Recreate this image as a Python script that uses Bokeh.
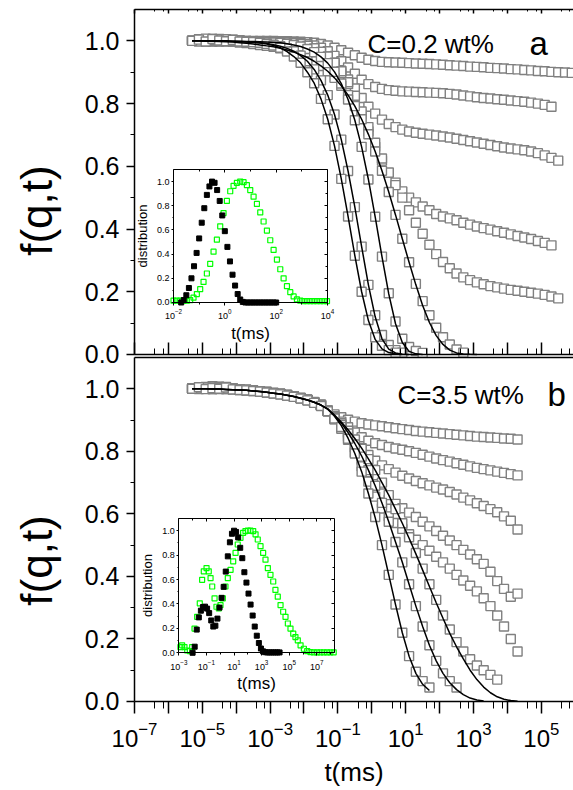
import math
from bokeh.plotting import figure
from bokeh.models import (Range1d, LogScale, LinearScale, LogAxis, LinearAxis, FixedTicker,
                          PrintfTickFormatter, LogTickFormatter, CustomJSTickFormatter, Label)
from bokeh.embed import file_html
from bokeh.resources import INLINE

FONT = "Liberation Sans"

# shared time grid, log10(t / ms)
LT = [-5.3, -5.1, -4.9, -4.7, -4.5, -4.3, -4.1, -3.9, -3.7, -3.5, -3.3, -3.1, -2.9, -2.7, -2.5,
      -2.3, -2.1, -1.9, -1.7, -1.5, -1.3, -1.1, -0.9, -0.7, -0.5, -0.3, -0.1, 0.1, 0.3, 0.5,
      0.7, 0.9, 1.1, 1.3, 1.5, 1.7, 1.9, 2.1, 2.3, 2.5, 2.7, 2.9, 3.1, 3.3, 3.5, 3.7, 3.9,
      4.1, 4.3, 4.5, 4.7, 4.9, 5.1, 5.3, 5.5, 5.7, 5.9]

# ---------------- panel a (C = 0.2 wt%) ----------------
A_F1 = [1.0, 1.004, 0.998, 1.006, 1.001, 0.999, 1.003, 0.998, 0.997, 0.996, 0.994,
        0.99, 0.985, 0.978, 0.966, 0.95, 0.93, 0.90, 0.865, 0.815, 0.75, 0.665, 0.56, 0.44,
        0.315, 0.2, 0.11, 0.055, 0.028, 0.014, 0.006]
A_F2 = [1.0, 0.998, 1.007, 1.002, 1.0, 1.005, 0.999, 1.001, 0.998, 0.997, 0.996,
        0.992, 0.988, 0.983, 0.976, 0.967, 0.953, 0.935, 0.909, 0.874, 0.827, 0.765, 0.685,
        0.585, 0.47, 0.344, 0.222, 0.125, 0.062, 0.03, 0.014, 0.006]
A_F3 = [1.0, 1.003, 1.0, 0.999, 1.006, 1.002, 1.0, 1.001, 0.999, 0.998, 0.997,
        0.996, 0.995, 0.994, 0.991, 0.987, 0.982, 0.974, 0.964, 0.949, 0.929, 0.901, 0.864,
        0.813, 0.747, 0.662, 0.558, 0.439, 0.312, 0.195, 0.105, 0.05, 0.024, 0.011, 0.005]
A_F4 = [1.0, 1.002, 0.999, 1.003, 1.004, 0.998, 0.997, 0.995, 0.993, 0.99, 0.987,
        0.984, 0.981, 0.976, 0.971, 0.964, 0.956, 0.947, 0.935, 0.92, 0.903, 0.882, 0.857,
        0.827, 0.792, 0.75, 0.702, 0.647, 0.586, 0.518, 0.445, 0.369, 0.294, 0.225, 0.17,
        0.125, 0.085, 0.055, 0.032, 0.016, 0.006]
A_P1 = [1.0, 1.003, 0.999, 1.005, 1.002, 1.0, 1.004, 1.001, 1.0, 0.999, 1.0,
        1.0, 1.0, 0.999, 0.999, 0.998, 0.997, 0.996, 0.994, 0.99, 0.985, 0.978, 0.97, 0.962,
        0.954, 0.946, 0.94, 0.936, 0.933, 0.932, 0.931, 0.93, 0.929, 0.928, 0.927, 0.926,
        0.925, 0.924, 0.922, 0.921, 0.92, 0.918, 0.917, 0.916, 0.914, 0.913, 0.912, 0.91,
        0.909, 0.907, 0.906, 0.904, 0.903, 0.901, 0.9, 0.899, 0.898]
A_P2 = [1.0, 1.001, 1.004, 0.999, 1.002, 1.0, 1.003, 1.0, 0.999, 1.0, 0.999,
        0.999, 0.999, 0.998, 0.998, 0.996, 0.993, 0.99, 0.985, 0.978, 0.967, 0.952, 0.935,
        0.915, 0.895, 0.876, 0.862, 0.853, 0.847, 0.843, 0.841, 0.839, 0.838, 0.837, 0.836,
        0.835, 0.834, 0.833, 0.831, 0.829, 0.826, 0.823, 0.82, 0.818, 0.816, 0.814, 0.812,
        0.81, 0.808, 0.806, 0.803, 0.8, 0.796, 0.79]
A_P3 = [1.0, 1.002, 1.0, 1.006, 0.999, 1.003, 1.0, 0.998, 1.0, 0.999, 0.999,
        0.999, 0.998, 0.998, 0.997, 0.995, 0.99, 0.984, 0.976, 0.965, 0.95, 0.93, 0.905,
        0.877, 0.848, 0.818, 0.79, 0.768, 0.749, 0.735, 0.725, 0.717, 0.711, 0.707, 0.704,
        0.701, 0.698, 0.695, 0.692, 0.688, 0.684, 0.68, 0.676, 0.672, 0.668, 0.664, 0.66,
        0.657, 0.654, 0.651, 0.647, 0.642, 0.635, 0.627, 0.618]
A_P4 = [1.0, 1.0, 1.003, 1.001, 0.998, 1.004, 1.0, 0.999, 0.998, 0.998, 0.997,
        0.998, 0.997, 0.996, 0.995, 0.993, 0.989, 0.984, 0.975, 0.963, 0.947, 0.925, 0.897,
        0.862, 0.815, 0.765, 0.712, 0.662, 0.618, 0.58, 0.548, 0.52, 0.5, 0.485, 0.472, 0.46,
        0.448, 0.44, 0.434, 0.428, 0.42, 0.414, 0.408, 0.403, 0.398, 0.393, 0.388, 0.383,
        0.378, 0.373, 0.368, 0.362, 0.356, 0.348]
A_P5 = [1.0, 1.005, 1.0, 0.999, 1.003, 1.0, 1.002, 0.999, 0.998, 0.998, 0.997,
        0.997, 0.997, 0.996, 0.995, 0.993, 0.99, 0.984, 0.976, 0.965, 0.95, 0.93, 0.903,
        0.868, 0.825, 0.775, 0.725, 0.675, 0.625, 0.58, 0.54, 0.5, 0.46, 0.42, 0.385, 0.35,
        0.32, 0.295, 0.275, 0.258, 0.246, 0.237, 0.23, 0.224, 0.218, 0.214, 0.21, 0.206,
        0.203, 0.2, 0.197, 0.194, 0.19, 0.185, 0.179]

A_FIT1 = [1.0, 1.0, 1.0, 1.0, 0.999, 0.999, 0.998, 0.997, 0.996, 0.995, 0.993,
          0.99, 0.985, 0.978, 0.966, 0.95, 0.93, 0.90, 0.865, 0.815, 0.75, 0.665, 0.56, 0.44,
          0.315, 0.2, 0.108, 0.048, 0.018, 0.006, 0.002, 0.0]
A_FIT2 = [1.0, 1.0, 1.0, 1.0, 1.0, 0.999, 0.999, 0.998, 0.997, 0.996, 0.994,
          0.992, 0.988, 0.983, 0.976, 0.967, 0.953, 0.935, 0.909, 0.874, 0.827, 0.765, 0.685,
          0.585, 0.47, 0.344, 0.222, 0.12, 0.05, 0.017, 0.005, 0.001, 0.0]
A_FIT3 = [1.0, 1.0, 1.0, 1.0, 1.0, 1.0, 0.999, 0.999, 0.998, 0.998, 0.997,
          0.996, 0.995, 0.994, 0.991, 0.987, 0.982, 0.974, 0.964, 0.949, 0.929, 0.901, 0.864,
          0.813, 0.747, 0.662, 0.558, 0.439, 0.312, 0.193, 0.098, 0.038, 0.01, 0.002, 0.0]
A_FIT4 = [1.0, 1.0, 0.999, 0.999, 0.998, 0.997, 0.996, 0.994, 0.992, 0.99, 0.987,
          0.984, 0.981, 0.976, 0.971, 0.964, 0.956, 0.947, 0.935, 0.92, 0.903, 0.882, 0.857,
          0.827, 0.792, 0.75, 0.702, 0.647, 0.586, 0.518, 0.445, 0.369, 0.294, 0.222, 0.156,
          0.102, 0.06, 0.032, 0.014, 0.005, 0.0016, 0.0004, 0.0]

# ---------------- panel b (C = 3.5 wt%) ----------------
B_P1 = [1.0, 1.003, 1.0, 1.005, 0.999, 1.002, 0.998, 0.997, 0.996, 0.994, 0.992, 0.99,
        0.987, 0.984, 0.98, 0.976, 0.971, 0.965, 0.958, 0.949,
        0.93, 0.918, 0.909, 0.901, 0.895, 0.89, 0.886, 0.883, 0.88, 0.877, 0.874, 0.871,
        0.868, 0.865, 0.863, 0.861, 0.859, 0.857, 0.855, 0.853, 0.851, 0.849, 0.847, 0.846,
        0.844, 0.843, 0.841, 0.84, 0.838]
B_P2 = [1.0, 0.999, 1.006, 1.002, 1.004, 0.999, 1.001, 0.998, 0.995, 0.995, 0.991, 0.989,
        0.986, 0.983, 0.979, 0.975, 0.97, 0.964, 0.957, 0.948,
        0.93, 0.912, 0.895, 0.877, 0.86, 0.845, 0.834, 0.826, 0.82, 0.814, 0.809, 0.805,
        0.8, 0.795, 0.789, 0.783, 0.777, 0.772, 0.767, 0.762, 0.757, 0.752, 0.747, 0.743,
        0.739, 0.735, 0.731, 0.727, 0.723]
B_P3 = [1.0, 1.004, 1.001, 0.999, 1.007, 1.003, 0.999, 0.996, 0.997, 0.993, 0.992, 0.99,
        0.986, 0.984, 0.98, 0.975, 0.97, 0.965, 0.957, 0.948,
        0.93, 0.908, 0.885, 0.86, 0.834, 0.81, 0.788, 0.77, 0.755, 0.743, 0.732, 0.722,
        0.713, 0.705, 0.698, 0.691, 0.684, 0.678, 0.67, 0.662, 0.652, 0.643, 0.634, 0.625,
        0.615, 0.605, 0.592, 0.578, 0.55]
B_P4 = [1.0, 1.002, 1.005, 1.0, 1.002, 1.006, 1.0, 0.998, 0.996, 0.994, 0.991, 0.989,
        0.987, 0.983, 0.979, 0.976, 0.97, 0.964, 0.956, 0.947,
        0.928, 0.903, 0.877, 0.847, 0.812, 0.773, 0.733, 0.695, 0.665, 0.645, 0.632, 0.618,
        0.604, 0.59, 0.575, 0.56, 0.545, 0.53, 0.515, 0.5, 0.485, 0.47, 0.455, 0.44, 0.415,
        0.385, 0.36, 0.335, 0.345]
B_P5 = [1.0, 1.0, 1.003, 1.008, 1.001, 0.999, 1.002, 0.997, 0.995, 0.994, 0.992, 0.99,
        0.986, 0.983, 0.98, 0.975, 0.971, 0.964, 0.957, 0.948,
        0.928, 0.902, 0.872, 0.837, 0.797, 0.752, 0.703, 0.655, 0.617, 0.592, 0.571, 0.552,
        0.535, 0.517, 0.5, 0.482, 0.463, 0.445, 0.425, 0.405, 0.387, 0.37, 0.352, 0.33,
        0.305, 0.275, 0.24, 0.2, 0.16]
B_F1 = [1.0, 1.005, 0.999, 1.002, 1.0, 1.004, 0.998, 0.996, 0.995, 0.993, 0.991, 0.988,
        0.985, 0.982, 0.978, 0.974, 0.969, 0.963, 0.955, 0.945,
        0.928, 0.905, 0.878, 0.84, 0.793, 0.735, 0.665, 0.59, 0.5, 0.405, 0.31, 0.22, 0.145,
        0.095, 0.065, 0.045]
B_F2 = [1.0, 1.001, 1.004, 0.999, 1.003, 1.0, 0.999, 0.997, 0.996, 0.994, 0.992, 0.989,
        0.986, 0.983, 0.979, 0.975, 0.97, 0.964, 0.956, 0.947,
        0.93, 0.907, 0.885, 0.857, 0.822, 0.783, 0.74, 0.69, 0.635, 0.575, 0.51, 0.445,
        0.375, 0.305, 0.24, 0.18, 0.13, 0.09, 0.065, 0.045]
B_F3 = [1.0, 1.002, 1.0, 1.004, 1.006, 1.001, 0.999, 0.998, 0.996, 0.994, 0.992, 0.99,
        0.987, 0.984, 0.98, 0.976, 0.971, 0.965, 0.957, 0.948,
        0.93, 0.91, 0.89, 0.866, 0.838, 0.808, 0.775, 0.74, 0.7, 0.66, 0.615, 0.57, 0.525,
        0.475, 0.425, 0.375, 0.325, 0.275, 0.23, 0.19, 0.16, 0.135, 0.115, 0.1, 0.085, 0.07]

B_FIT1 = [1.0, 1.0, 1.0, 0.999, 0.999, 0.998, 0.997, 0.996, 0.995, 0.993, 0.991, 0.989,
          0.986, 0.983, 0.979, 0.975, 0.97, 0.964, 0.957, 0.948,
          0.935, 0.912, 0.882, 0.842, 0.793, 0.735, 0.665, 0.588, 0.5, 0.405, 0.31, 0.22,
          0.145, 0.09, 0.055, 0.035]
B_FIT2 = [1.0, 1.0, 1.0, 0.999, 0.999, 0.998, 0.997, 0.996, 0.995, 0.993, 0.991, 0.989,
          0.986, 0.983, 0.979, 0.975, 0.97, 0.964, 0.957, 0.948,
          0.935, 0.914, 0.89, 0.86, 0.825, 0.785, 0.74, 0.69, 0.635, 0.575, 0.51, 0.445,
          0.375, 0.305, 0.24, 0.18, 0.13, 0.09, 0.06, 0.038, 0.022, 0.011, 0.005, 0.002]
B_FIT3 = [1.0, 1.0, 1.0, 0.999, 0.999, 0.998, 0.997, 0.996, 0.995, 0.993, 0.991, 0.989,
          0.986, 0.983, 0.979, 0.975, 0.97, 0.964, 0.957, 0.948,
          0.936, 0.916, 0.894, 0.869, 0.841, 0.81, 0.776, 0.74, 0.7, 0.66, 0.615, 0.57,
          0.522, 0.472, 0.42, 0.368, 0.316, 0.266, 0.218, 0.175, 0.136, 0.1, 0.07, 0.046,
          0.028, 0.015, 0.007, 0.003, 0.001]

# ---------------- inset a: distributions ----------------
IA_BLACK_LT = [-1.7, -1.6, -1.5, -1.4, -1.3, -1.2, -1.1, -1.0, -0.9, -0.8, -0.7, -0.6, -0.5,
               -0.4, -0.3, -0.2, -0.1, 0.0, 0.1, 0.2, 0.3, 0.4, 0.5, 0.6, 0.7, 0.8, 0.9, 1.0,
               1.1, 1.2, 1.3, 1.4, 1.5, 1.6, 1.7, 1.8, 1.9, 2.0]
IA_BLACK = [0.0, 0.02, 0.06, 0.12, 0.2, 0.3, 0.41, 0.53, 0.66, 0.78, 0.89, 0.96, 1.0, 0.99,
            0.93, 0.84, 0.72, 0.59, 0.46, 0.34, 0.23, 0.14, 0.07, 0.025, 0.005, 0.0, 0.0,
            0.0, 0.0, 0.0, 0.0, 0.0, 0.0, 0.0, 0.0, 0.0, 0.0, 0.0]
IA_GREEN_LT = [-2.0, -1.87, -1.74, -1.61, -1.48, -1.35, -1.22, -1.09, -0.96, -0.83, -0.70,
               -0.57, -0.44, -0.31, -0.18, -0.05, 0.08, 0.21, 0.34, 0.47, 0.60, 0.73, 0.86,
               0.99, 1.12, 1.25, 1.38, 1.51, 1.64, 1.77, 1.90, 2.03, 2.16, 2.29, 2.42, 2.55,
               2.68, 2.81, 2.94, 3.07, 3.20, 3.33, 3.46, 3.59, 3.72, 3.85, 3.98]
IA_GREEN = [0.015, 0.015, 0.015, 0.015, 0.015, 0.02, 0.04, 0.07, 0.11, 0.17, 0.24, 0.32,
            0.42, 0.52, 0.63, 0.74, 0.84, 0.92, 0.965, 0.99, 1.0, 0.995, 0.97, 0.93, 0.875,
            0.815, 0.745, 0.67, 0.595, 0.515, 0.435, 0.355, 0.275, 0.2, 0.135, 0.085, 0.05,
            0.025, 0.015, 0.012, 0.012, 0.012, 0.012, 0.012, 0.012, 0.012, 0.012]

# ---------------- inset b: distributions ----------------
IB_BLACK_LT = [-2.0, -1.85, -1.7, -1.55, -1.4, -1.25, -1.1, -0.95, -0.8, -0.65, -0.5, -0.35,
               -0.2, -0.05, 0.1, 0.25, 0.4, 0.55, 0.7, 0.85, 1.0, 1.15, 1.3, 1.45, 1.6, 1.75,
               1.9, 2.05, 2.2, 2.35, 2.5, 2.65, 2.8, 2.95, 3.1, 3.25, 3.4, 3.55, 3.7, 3.85,
               4.0, 4.15, 4.3]
IB_BLACK = [0.0, 0.05, 0.19, 0.29, 0.345, 0.375, 0.378, 0.362, 0.325, 0.265, 0.215, 0.222,
            0.28, 0.37, 0.45, 0.54, 0.665, 0.79, 0.905, 0.975, 1.0, 0.99, 0.945, 0.86, 0.775,
            0.66, 0.575, 0.485, 0.395, 0.305, 0.215, 0.14, 0.08, 0.035, 0.012, 0.005, 0.003,
            0.003, 0.003, 0.003, 0.003, 0.003, 0.003]
IB_GREEN_LT = [-2.88, -2.76, -2.59, -2.39, -2.2, -2.03, -1.86, -1.67, -1.48, -1.31, -1.19,
               -0.99, -0.83, -0.7, -0.58, -0.41, -0.27, -0.1, 0.02, 0.19, 0.38, 0.55, 0.75,
               0.94, 1.11, 1.27, 1.47, 1.66, 1.83, 2.0, 2.19, 2.39, 2.56, 2.72, 2.92, 3.11,
               3.28, 3.45, 3.64, 3.84, 4.0, 4.17, 4.37, 4.56, 4.73, 4.9, 5.09, 5.29, 5.45,
               5.62, 5.82, 6.06, 6.3, 6.54, 6.78, 7.02, 7.26, 7.5, 7.74, 7.98, 8.22]
IB_GREEN = [0.047, 0.061, 0.047, 0.019, 0.014, 0.047, 0.198, 0.295, 0.405, 0.598, 0.667,
            0.694, 0.667, 0.612, 0.543, 0.446, 0.377, 0.364, 0.391, 0.446, 0.543, 0.612,
            0.68, 0.749, 0.818, 0.887, 0.942, 0.983, 0.997, 1.0, 1.0, 0.997, 0.97, 0.928,
            0.873, 0.818, 0.763, 0.694, 0.639, 0.584, 0.515, 0.46, 0.391, 0.336, 0.295,
            0.24, 0.198, 0.157, 0.129, 0.102, 0.061, 0.033, 0.014, 0.006, 0.004, 0.004,
            0.004, 0.004, 0.004, 0.004, 0.004]

Y_TICKS = [0.0, 0.2, 0.4, 0.6, 0.8, 1.0]
Y_MINOR = [0.1, 0.3, 0.5, 0.7, 0.9]
X_LO, X_HI = 1e-7, 10 ** 5.95


def tx(vals, grid):
    return [10.0 ** g for g in grid[:len(vals)]]


# the frame covers the whole canvas; every axis is placed with fixed_location + bounds
p = figure(width=573, height=790, x_axis_type="log",
           x_range=Range1d(10 ** -10.9528, X_HI), y_range=Range1d(-0.2846, 2.2416),
           x_axis_location=None, y_axis_location=None,
           output_backend="svg", toolbar_location=None,
           min_border_left=0, min_border_right=0, min_border_top=0, min_border_bottom=0)
p.outline_line_color = None
p.grid.visible = False
p.extra_y_ranges = {"top": Range1d(-1.3903, 1.1287),
                    "iy1": Range1d(-4.0364, 2.4979),
                    "iy2": Range1d(-1.1279, 5.3428)}
p.extra_x_ranges = {"ix1": Range1d(10 ** -8.7403, 10 ** 13.5844),
                    "ix2": Range1d(10 ** -15.9156, 10 ** 25.5915)}
p.extra_x_scales = {"ix1": LogScale(), "ix2": LogScale()}
p.extra_y_scales = {"top": LinearScale(), "iy1": LinearScale(), "iy2": LinearScale()}

GREY = "#808080"
for vals in (A_P1, A_P2, A_P3, A_P4, A_P5, A_F4, A_F3, A_F2, A_F1):
    p.scatter(tx(vals, LT), vals, marker="square", size=9, line_color=GREY,
              fill_color="white", line_width=1.4, y_range_name="top")
for vals in (A_FIT1, A_FIT2, A_FIT3, A_FIT4):
    p.line(tx(vals, LT), vals, line_color="black", line_width=1.5, y_range_name="top")

for vals in (B_P1, B_P2, B_P3, B_P4, B_P5, B_F3, B_F2, B_F1):
    p.scatter(tx(vals, LT), vals, marker="square", size=9, line_color=GREY,
              fill_color="white", line_width=1.4)
for vals in (B_FIT1, B_FIT2, B_FIT3):
    p.line(tx(vals, LT), vals, line_color="black", line_width=1.5)

# insets
p.scatter(tx(IA_GREEN, IA_GREEN_LT), IA_GREEN, marker="square", size=5, line_color="#00ff00",
          fill_color=None, line_width=1.2, x_range_name="ix1", y_range_name="iy1")
p.scatter(tx(IA_BLACK, IA_BLACK_LT), IA_BLACK, marker="square", size=5, line_color="black",
          fill_color="black", x_range_name="ix1", y_range_name="iy1")
p.scatter(tx(IB_GREEN, IB_GREEN_LT), IB_GREEN, marker="square", size=5, line_color="#00ff00",
          fill_color=None, line_width=1.2, x_range_name="ix2", y_range_name="iy2")
p.scatter(tx(IB_BLACK, IB_BLACK_LT), IB_BLACK, marker="square", size=5, line_color="black",
          fill_color="black", x_range_name="ix2", y_range_name="iy2")


def style(ax, size="0px", mi=0, mo=0, ni=0, no=0, lw=1.5, standoff=4):
    ax.axis_line_width = lw
    ax.axis_line_color = "black"
    ax.major_tick_line_width = lw
    ax.minor_tick_line_width = 1
    ax.major_tick_in = mi
    ax.major_tick_out = mo
    ax.minor_tick_in = ni
    ax.minor_tick_out = no
    ax.major_label_text_font = FONT
    ax.major_label_text_font_size = size
    ax.major_label_text_color = "black"
    ax.major_label_standoff = standoff
    ax.axis_label_text_font = FONT
    ax.axis_label_text_font_style = "normal"
    ax.axis_label_text_color = "black"
    return ax


def empty():
    return CustomJSTickFormatter(code="return ''")


def decade_ticker(lo, hi):
    major = [10.0 ** k for k in range(lo, hi + 1)]
    minor = [m * 10.0 ** k for k in range(lo, hi + 1) for m in (4, 7)]
    return FixedTicker(ticks=major, minor_ticks=minor)


# main x axes (panel b bottom: ticks + labels)
ax = style(LogAxis(ticker=decade_ticker(-7, 5), formatter=empty(), fixed_location=0,
                   bounds=(X_LO, X_HI)), mo=12, no=7)
p.add_layout(ax, "below")
ax = style(LogAxis(ticker=FixedTicker(ticks=[10.0 ** k for k in (-7, -5, -3, -1, 1, 3, 5)],
                                      minor_ticks=[]),
                   formatter=LogTickFormatter(), fixed_location=0, bounds=(X_LO, X_HI),
                   axis_label="t(ms)"),
           size="24px", standoff=21)
ax.axis_line_color = None
ax.major_tick_line_color = None
ax.axis_label_text_font_size = "26px"
ax.axis_label_standoff = 6
p.add_layout(ax, "below")
# panel a bottom (ticks inward), panel a top, panel b top
ax = style(LogAxis(ticker=decade_ticker(-7, 5), formatter=empty(), fixed_location=0,
                   bounds=(X_LO, X_HI), y_range_name="top"), mi=12, ni=6)
p.add_layout(ax, "below")
ax = style(LogAxis(ticker=decade_ticker(-7, 5), formatter=empty(), fixed_location=1.1,
                   bounds=(X_LO, X_HI), y_range_name="top"), mi=4, ni=2)
p.add_layout(ax, "above")
ax = style(LogAxis(ticker=decade_ticker(-7, 5), formatter=empty(), fixed_location=1.1,
                   bounds=(X_LO, X_HI)))
ax.major_tick_line_color = None
ax.minor_tick_line_color = None
p.add_layout(ax, "above")

# main y axes
for rn in ("default", "top"):
    ay = style(LinearAxis(ticker=FixedTicker(ticks=Y_TICKS, minor_ticks=Y_MINOR),
                          formatter=PrintfTickFormatter(format="%.1f"),
                          fixed_location=X_LO, bounds=(0, 1.1), y_range_name=rn),
               size="25px", mo=8, no=4, standoff=7)
    p.add_layout(ay, "left")


def inset_axes(xr, yr, lo, xmax, labelled):
    ticks = [10.0 ** k for k in labelled]
    minor = [10.0 ** k for k in range(lo, int(math.floor(math.log10(xmax))) + 1)
             if k not in labelled]
    xb = style(LogAxis(ticker=FixedTicker(ticks=ticks, minor_ticks=minor),
                       formatter=LogTickFormatter(), fixed_location=0,
                       bounds=(10.0 ** lo, xmax), x_range_name=xr, y_range_name=yr,
                       axis_label="t(ms)"),
               size="9px", mo=3, no=2, lw=1, standoff=4)
    xb.axis_label_text_font_size = "17px"
    xb.axis_label_standoff = 1
    p.add_layout(xb, "below")
    xt = style(LogAxis(ticker=FixedTicker(ticks=ticks, minor_ticks=minor), formatter=empty(),
                       fixed_location=1.1, bounds=(10.0 ** lo, xmax),
                       x_range_name=xr, y_range_name=yr), mi=3, ni=2, lw=1)
    p.add_layout(xt, "above")
    yl = style(LinearAxis(ticker=FixedTicker(ticks=Y_TICKS, minor_ticks=Y_MINOR),
                          formatter=PrintfTickFormatter(format="%.1f"),
                          fixed_location=10.0 ** lo, bounds=(0, 1.1),
                          x_range_name=xr, y_range_name=yr, axis_label="distribution"),
               size="9px", mo=2, no=1, lw=1, standoff=2)
    yl.axis_label_text_font_size = "13px"
    yl.axis_label_standoff = 4
    p.add_layout(yl, "left")
    yr_ax = style(LinearAxis(ticker=FixedTicker(ticks=Y_TICKS, minor_ticks=Y_MINOR),
                             formatter=empty(), fixed_location=xmax, bounds=(0, 1.1),
                             x_range_name=xr, y_range_name=yr), mi=3, ni=2, lw=1)
    p.add_layout(yr_ax, "right")


inset_axes("ix1", "iy1", -2, 1e4, [-2, 0, 2, 4])
inset_axes("ix2", "iy2", -3, 10 ** 8.3, [-3, -1, 1, 3, 5, 7])

# texts (screen units are measured from the frame's bottom-left corner = canvas corner)
for yv, rn in ((0.459, "top"), (0.451, "default")):
    p.add_layout(Label(x=36, y=yv, x_units="screen", y_range_name=rn, text="f(q,t)",
                       angle=math.pi / 2, text_align="center", text_baseline="middle",
                       text_font=FONT, text_font_size="44px", text_color="black"))

p.add_layout(Label(x=367, y=747, x_units="screen", y_units="screen", text="C=0.2 wt%",
                   text_font=FONT, text_font_size="26px", text_baseline="alphabetic",
                   text_color="black"))
p.add_layout(Label(x=529, y=747, x_units="screen", y_units="screen", text="a",
                   text_font=FONT, text_font_size="33px", text_baseline="alphabetic",
                   text_color="black"))
p.add_layout(Label(x=397, y=396, x_units="screen", y_units="screen", text="C=3.5 wt%",
                   text_font=FONT, text_font_size="26px", text_baseline="alphabetic",
                   text_color="black"))
p.add_layout(Label(x=547, y=396, x_units="screen", y_units="screen", text="b",
                   text_font=FONT, text_font_size="33px", text_baseline="alphabetic",
                   text_color="black"))

open("out.html", "w").write(file_html(p, INLINE))
